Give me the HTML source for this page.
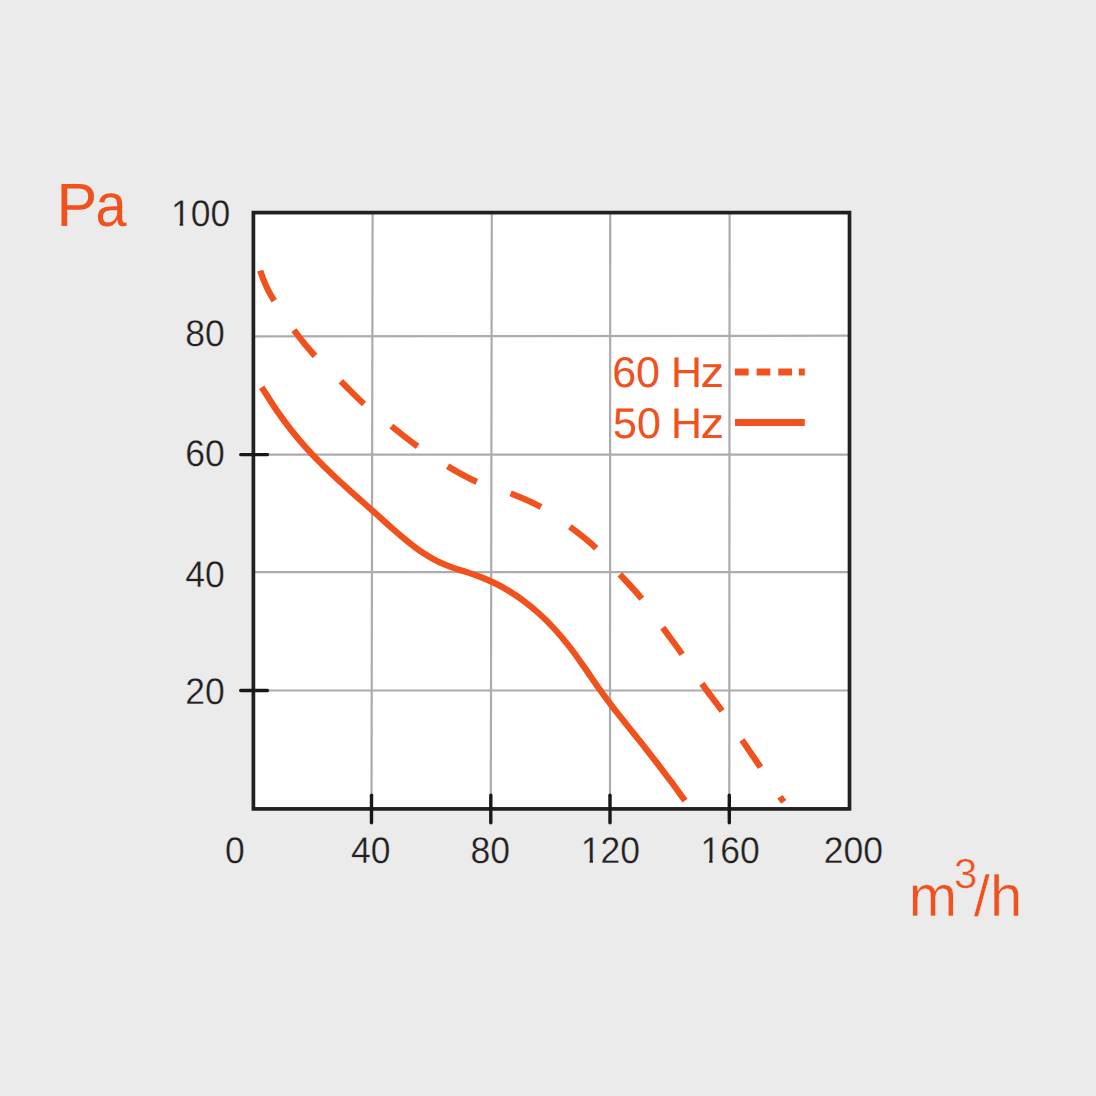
<!DOCTYPE html>
<html lang="en">
<head>
<meta charset="utf-8">
<title>Fan performance curve</title>
<style>
  html, body { margin: 0; padding: 0; }
  body { width: 1096px; height: 1096px; background: #ebebeb; overflow: hidden; }
  svg { display: block; }
  text { font-family: "Liberation Sans", Arial, sans-serif; text-rendering: geometricPrecision; }
  .num { font-size: 37px; fill: #231f20; stroke: #ebebeb; stroke-width: 0.3px; }
  .org { fill: #f0511d; }
</style>
</head>
<body>
<svg width="1096" height="1096" viewBox="0 0 1096 1096">
  <rect x="0" y="0" width="1096" height="1096" fill="#ebebeb"/>
  <!-- plot area -->
  <rect x="253.4" y="212.6" width="596.1" height="596.3" fill="#ffffff"/>
  <!-- grid -->
  <g stroke="#acacb0" stroke-width="2.2" fill="none">
    <line x1="372.6" y1="212.6" x2="371.5" y2="808.9"/>
    <line x1="491.8" y1="212.6" x2="490.8" y2="808.9"/>
    <line x1="610.2" y1="212.6" x2="610" y2="808.9"/>
    <line x1="729.6" y1="212.6" x2="729.3" y2="808.9"/>
    <line x1="253.4" y1="336.4" x2="849.5" y2="335.7"/>
    <line x1="253.4" y1="454.6" x2="849.5" y2="454.6"/>
    <line x1="253.4" y1="572.1" x2="849.5" y2="572.1"/>
    <line x1="253.4" y1="690.5" x2="849.5" y2="690.5"/>
  </g>
  <!-- curves -->
  <path d="M261.7 387.2C266.6 394.7 271.4 402.8 276.3 409.9C281.2 416.9 286.0 423.5 290.9 429.7C295.8 435.9 300.6 441.6 305.5 447.1C310.4 452.6 315.2 457.7 320.1 462.6C325.0 467.6 329.8 472.2 334.7 476.8C339.5 481.3 344.4 485.7 349.3 490.1C354.1 494.4 359.0 498.6 363.9 503.0C368.7 507.3 373.6 511.7 378.5 516.0C383.3 520.4 388.2 524.9 393.1 529.1C397.9 533.4 402.8 537.6 407.7 541.5C412.5 545.4 417.4 549.2 422.3 552.4C427.1 555.6 432.0 558.5 436.9 561.0C441.7 563.4 446.6 565.2 451.5 567.1C456.3 568.9 461.2 570.3 466.1 571.9C470.9 573.6 475.8 575.1 480.6 577.0C485.5 578.9 490.4 581.0 495.2 583.4C500.1 585.8 505.0 588.5 509.8 591.5C514.7 594.5 519.6 597.7 524.4 601.4C529.3 605.1 534.2 609.1 539.0 613.5C543.9 618.0 548.8 622.7 553.6 628.0C558.5 633.3 563.4 639.0 568.2 645.1C573.1 651.3 578.0 658.2 582.8 665.1C587.7 671.9 592.6 679.4 597.4 686.2C602.3 693.1 607.2 699.8 612.0 706.2C616.9 712.6 621.7 718.5 626.6 724.6C631.5 730.7 636.3 736.7 641.2 742.8C646.1 749.0 650.9 755.2 655.8 761.5C660.7 767.8 665.5 774.2 670.4 780.7C675.3 787.3 680.1 794.0 685.0 800.7" fill="none" stroke="#f0511d" stroke-width="6.3"/>
  <path d="M260.2 270.6Q265.4 287.0 274.2 300.8M293.9 330.2C300.7 339.4 307.2 347.5 315.0 356.0M340.8 381.2C349.0 389.2 355.6 396.5 364.0 404.0M391.4 426.1C400.3 433.2 408.2 439.7 417.6 446.4M447.6 466.2C457.5 472.1 466.3 477.3 476.8 481.8M510.6 493.4C521.3 497.6 531.1 501.5 541.0 507.1M569.9 526.8C579.1 533.6 587.9 540.3 596.2 548.2M619.9 574.4C627.5 582.8 634.6 589.8 641.7 598.7M662.8 627.6C669.5 636.9 675.7 645.0 682.2 654.3M701.9 683.6C708.5 693.1 715.3 701.6 722.0 711.0M742.0 740.0C748.4 749.4 754.2 757.8 760.5 767.2M780.0 796.7C783.9 802.5 782.5 800.2 783.8 801.9" fill="none" stroke="#f0511d" stroke-width="6.3"/>
  <!-- frame -->
  <rect x="253.4" y="212.6" width="596.1" height="596.3" fill="none" stroke="#231f20" stroke-width="3.7"/>
  <!-- ticks -->
  <g stroke="#1a1718" stroke-width="3.4" stroke-linecap="round">
    <line x1="240.7" y1="454.6" x2="267.4" y2="454.6"/>
    <line x1="240.7" y1="690.5" x2="267.4" y2="690.5"/>
    <line x1="371.5" y1="795.2" x2="371.5" y2="822.8"/>
    <line x1="490.8" y1="795.2" x2="490.8" y2="822.8"/>
    <line x1="610" y1="795.2" x2="610" y2="822.8"/>
    <line x1="729.3" y1="795.2" x2="729.3" y2="822.8"/>
  </g>
  <!-- y labels -->
  <g class="num">
    <text transform="translate(170.9 225.9) scale(.96 1)">100</text>
    <text transform="translate(185.2 345.5) scale(.96 1)">80</text>
    <text transform="translate(185.2 466.1) scale(.96 1)">60</text>
    <text transform="translate(185.2 586.5) scale(.96 1)">40</text>
    <text transform="translate(185.2 703.5) scale(.96 1)">20</text>
    <!-- x labels -->
    <text transform="translate(224.9 862.6) scale(.96 1)">0</text>
    <text transform="translate(351.1 862.6) scale(.96 1)">40</text>
    <text transform="translate(470.6 862.6) scale(.96 1)">80</text>
    <text transform="translate(580.8 862.6) scale(.96 1)">120</text>
    <text transform="translate(700.4 862.6) scale(.96 1)">160</text>
    <text transform="translate(823.7 862.6) scale(.96 1)">200</text>
  </g>
  <!-- hide the foot serif of the digit 1 to mimic the Arial-style numeral -->
  <g><rect x="172.1" y="222.5" width="7.5" height="4.4" fill="#ebebeb"/><rect x="183.2" y="222.5" width="7.4" height="4.4" fill="#ebebeb"/><rect x="582.0" y="859.2" width="7.5" height="4.4" fill="#ebebeb"/><rect x="593.0" y="859.2" width="7.4" height="4.4" fill="#ebebeb"/><rect x="701.6" y="859.2" width="7.5" height="4.4" fill="#ebebeb"/><rect x="712.6" y="859.2" width="7.4" height="4.4" fill="#ebebeb"/></g>
  <!-- axis titles -->
  <text class="org" x="56.5" y="226.4" font-size="61">P</text>
  <text class="org" font-size="61" transform="translate(95.5 226.4) scale(.915 1)">a</text>
  <text class="org" font-size="58" y="915.5" stroke="#ebebeb" stroke-width="0.5"><tspan x="908.8">m</tspan><tspan x="954" y="887.6" font-size="42">3</tspan><tspan x="973.8" y="915.5">/h</tspan></text>
  <!-- legend -->
  <text class="org" y="387.3" font-size="43"><tspan x="612.2">60</tspan><tspan x="671.1">H</tspan></text>
  <text class="org" font-size="43" transform="translate(700.6 387.3) scale(1.1 1)">z</text>
  <text class="org" y="437.5" font-size="43"><tspan x="613">50</tspan><tspan x="671.1">H</tspan></text>
  <text class="org" font-size="43" transform="translate(700.6 437.5) scale(1.1 1)">z</text>
  <g stroke="#f0511d" stroke-width="7" fill="none">
    <path d="M734.9 372.1H748.6M756.6 372.1H770.3M778.3 372.1H792M798.8 372.1H804.8"/>
    <path d="M735 422.6H804.8"/>
  </g>
</svg>
</body>
</html>
